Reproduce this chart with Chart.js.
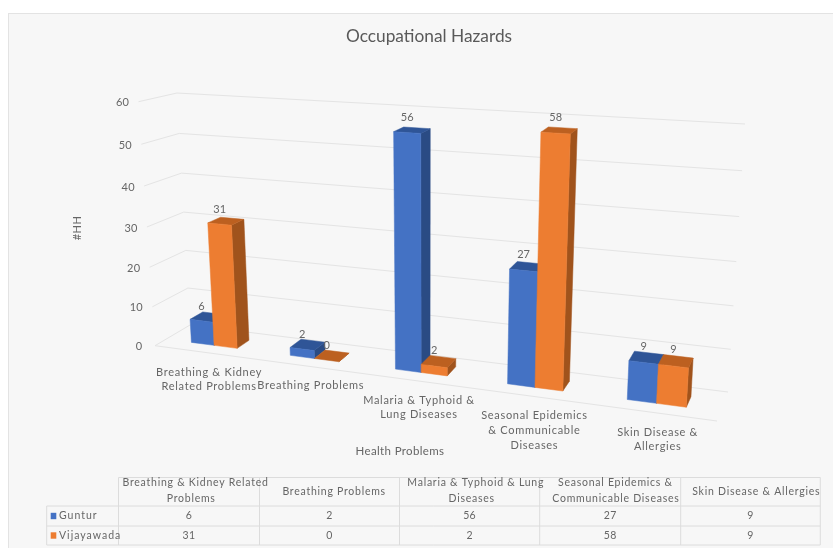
<!DOCTYPE html>
<html>
<head>
<meta charset="utf-8">
<style>
html,body{margin:0;padding:0;background:#fff;overflow:hidden}
#wrap{position:absolute;left:0;top:0;width:833px;height:548px}
canvas{filter:blur(0.6px)}
</style>
<script src="https://cdn.jsdelivr.net/npm/chart.js@4"></script>
</head>
<body>
<div id="wrap"><canvas id="c" width="833" height="548"></canvas></div>
<script>
const categories = ["Breathing & Kidney Related Problems","Breathing Problems","Malaria & Typhoid & Lung Diseases","Seasonal Epidemics & Communicable Diseases","Skin Disease & Allergies"];
const axisLabelLines = [["Breathing & Kidney","Related Problems"],["Breathing Problems"],["Malaria & Typhoid &","Lung Diseases"],["Seasonal Epidemics","& Communicable","Diseases"],["Skin Disease &","Allergies"]];
const tableHeaderLines = [["Breathing & Kidney Related","Problems"],["Breathing Problems"],["Malaria & Typhoid & Lung","Diseases"],["Seasonal Epidemics &","Communicable Diseases"],["Skin Disease & Allergies"]];
const guntur = [6,2,56,27,9];
const vijayawada = [31,0,2,58,9];
const seriesNames = ["Guntur","Vijayawada"];
const seriesColors = ["#4472C4","#ED7D31"];
const sideColors = ["#2A4B84","#A0531C"];
const topColors = ["#2F5597","#BC6020"];
const chartTitle = "Occupational Hazards";
const yTitle = "#HH";
const xTitle = "Health Problems";

// Perspective box of the plot: [front/back][left/right][floor/top]
const BOX = {
  fl0:[155,345.7], flt:[138.5,101.7],
  bl0:[190,325],   blt:[177,93],
  fr0:[717,421],   frt:[734,140],
  br0:[728,392],   brt:[745,124]
};
const K_U = 1.174, K_V = 1.055;
const BAR_D0 = 0.32, BAR_D1 = 0.69;
const FONT = 'Lato, "Open Sans", sans-serif';
const TEXT = '#666';
const GRID = '#e4e4e4';

function lerp(a,b,t){return [a[0]+(b[0]-a[0])*t,a[1]+(b[1]-a[1])*t];}
function boxPoint(U,V,d){
  const f0=lerp(BOX.fl0,BOX.fr0,U), ft=lerp(BOX.flt,BOX.frt,U);
  const b0=lerp(BOX.bl0,BOX.br0,U), bt=lerp(BOX.blt,BOX.brt,U);
  return lerp(lerp(f0,ft,V),lerp(b0,bt,V),d);
}
function project(chart,px,py,d){
  const a=chart.chartArea;
  const u=(px-a.left)/a.width, v=(a.bottom-py)/a.height;
  const U=u/(u+K_U*(1-u)), V=v<=0?0:v/(v+K_V*(1-v));
  return boxPoint(U,V,d);
}
function poly(ctx,pts,fill){
  ctx.beginPath();
  pts.forEach((p,i)=>i?ctx.lineTo(p[0],p[1]):ctx.moveTo(p[0],p[1]));
  ctx.closePath();
  ctx.fillStyle=fill;ctx.strokeStyle=fill;ctx.lineWidth=0.5;
  ctx.fill();ctx.stroke();
}
function text(ctx,s,x,y,size,spacing,color,shift){
  ctx.font=size+'px '+FONT;
  ctx.letterSpacing=(spacing||0)+'px';
  ctx.fillStyle=color||TEXT;
  ctx.textAlign='left';ctx.textBaseline='middle';
  const w=ctx.measureText(s).width;
  ctx.fillText(s,x-w/2+(shift||0)*w,y);
  ctx.letterSpacing='0px';
}

const scene3d = {
  id:'scene3d',
  beforeDraw(chart){
    const ctx=chart.ctx;
    ctx.save();
    ctx.fillStyle='#fff';ctx.fillRect(0,0,chart.width,chart.height);
    ctx.fillStyle='#F7F7F7';ctx.strokeStyle='#E3E3E3';ctx.lineWidth=1;
    ctx.fillRect(8.5,13.5,830,540);ctx.strokeRect(8.5,13.5,830,540);
    ctx.restore();
  },
  beforeDatasetsDraw(chart){
    const ctx=chart.ctx, xs=chart.scales.x, ys=chart.scales.y;
    ctx.save();
    // grid on the two walls and the floor
    ctx.strokeStyle=GRID;ctx.lineWidth=1;
    ys.ticks.forEach(t=>{
      const py=ys.getPixelForValue(t.value);
      const a=project(chart,chart.chartArea.left,py,0),
            b=project(chart,chart.chartArea.left,py,1),
            c=project(chart,chart.chartArea.right,py,1);
      ctx.beginPath();ctx.moveTo(a[0],a[1]);ctx.lineTo(b[0],b[1]);ctx.lineTo(c[0],c[1]);ctx.stroke();
      // value labels follow the front edge of the left wall
      text(ctx,String(t.value),a[0]-16,a[1]+1,11,0.2);
    });
    const py0=ys.getPixelForValue(0);
    const f0=project(chart,chart.chartArea.left,py0,0), f1=project(chart,chart.chartArea.right,py0,0);
    ctx.beginPath();ctx.moveTo(f0[0],f0[1]);ctx.lineTo(f1[0],f1[1]);ctx.stroke();

    // bars, left to right, each as a lit box
    const metas=[chart.getDatasetMeta(0),chart.getDatasetMeta(1)];
    const labels=[];
    categories.forEach((_,i)=>{
      metas.forEach((m,s)=>{
        const el=m.data[i];
        const l=el.x-el.width/2, r=el.x+el.width/2, top=el.y, base=el.base;
        const fb0=project(chart,l,base,BAR_D0), fb1=project(chart,r,base,BAR_D0);
        const ft0=project(chart,l,top,BAR_D0),  ft1=project(chart,r,top,BAR_D0);
        const bb1=project(chart,r,base,BAR_D1), bt1=project(chart,r,top,BAR_D1), bt0=project(chart,l,top,BAR_D1);
        poly(ctx,[fb1,bb1,bt1,ft1],sideColors[s]);
        poly(ctx,[ft0,ft1,bt1,bt0],topColors[s]);
        if(top!==base) poly(ctx,[fb0,fb1,ft1,ft0],chart.data.datasets[s].backgroundColor);
        const val=chart.data.datasets[s].data[i];
        const mx=(ft0[0]+ft1[0])/2;
        const my=(bt0[1]+bt1[1])/2;
        labels.push([String(val),mx,my-6-5*(val/ys.max)]);
      });
    });
    labels.forEach(l=>text(ctx,l[0],l[1],l[2],11,0));

    // category labels hang under the front floor edge
    axisLabelLines.forEach((lines,i)=>{
      const p=project(chart,xs.getPixelForTick(i),py0,0);
      lines.forEach((ln,j)=>text(ctx,ln,p[0]+5.5,p[1]+20+j*14.6,11,0.7));
    });
    text(ctx,xs.options.title.text,400,451,11.5,0.35);
    ctx.save();
    ctx.translate(77,228);ctx.rotate(-Math.PI/2);
    text(ctx,ys.options.title.text,0,0,11,0.5);
    ctx.restore();

    // data table
    const colX=[118.5,259.5,399.5,539.7,680.7,820.3], rowY=[477.5,506,526,545], left=46.7;
    ctx.strokeStyle='#DCDCDC';ctx.lineWidth=1;
    const seg=(x1,y1,x2,y2)=>{ctx.beginPath();ctx.moveTo(x1,y1);ctx.lineTo(x2,y2);ctx.stroke();};
    seg(colX[0],rowY[0],colX[5],rowY[0]);
    [1,2,3].forEach(r=>seg(left,rowY[r],colX[5],rowY[r]));
    colX.forEach(x=>seg(x,rowY[0],x,rowY[3]));
    seg(left,rowY[1],left,rowY[3]);
    tableHeaderLines.forEach((lines,i)=>{
      const cx=(colX[i]+colX[i+1])/2;
      if(lines.length===1) text(ctx,lines[0],cx,491.5,10.5,0.75,TEXT,0.045);
      else lines.forEach((ln,j)=>text(ctx,ln,cx,483+j*16,10.5,0.75,TEXT,0.045));
    });
    chart.data.datasets.forEach((ds,s)=>{
      const y=(rowY[s+1]+rowY[s+2])/2;
      ctx.fillStyle=ds.backgroundColor;ctx.fillRect(50.7,y-3.2,5.6,6.4);
      ctx.font='10.5px '+FONT;ctx.letterSpacing='1px';ctx.fillStyle=TEXT;
      ctx.textAlign='left';ctx.textBaseline='middle';
      ctx.fillText(ds.label,59,y);ctx.letterSpacing='0px';
      ds.data.forEach((v,i)=>text(ctx,String(v),(colX[i]+colX[i+1])/2,y,10.5,0.3));
    });
    ctx.restore();
    return false;
  }
};

new Chart(document.getElementById('c'),{
  type:'bar',
  plugins:[scene3d],
  data:{
    labels:categories,
    datasets:[
      {label:seriesNames[0],data:guntur,backgroundColor:seriesColors[0],barPercentage:1,categoryPercentage:0.47},
      {label:seriesNames[1],data:vijayawada,backgroundColor:seriesColors[1],barPercentage:1,categoryPercentage:0.47}
    ]
  },
  options:{
    responsive:false,
    animation:false,
    layout:{padding:{left:17,top:0,right:0,bottom:0}},
    plugins:{
      legend:{display:false},
      tooltip:{enabled:false},
      title:{display:true,text:chartTitle,fullSize:false,color:'#595959',
        font:{family:FONT,size:17.3,weight:'normal'},padding:{top:26,bottom:10}}
    },
    scales:{
      x:{grid:{display:false},border:{display:false},ticks:{display:false},title:{display:false,text:xTitle}},
      y:{min:0,max:60,ticks:{display:false,stepSize:10},grid:{display:false},border:{display:false},title:{display:false,text:yTitle}}
    }
  }
});
</script>
</body>
</html>
